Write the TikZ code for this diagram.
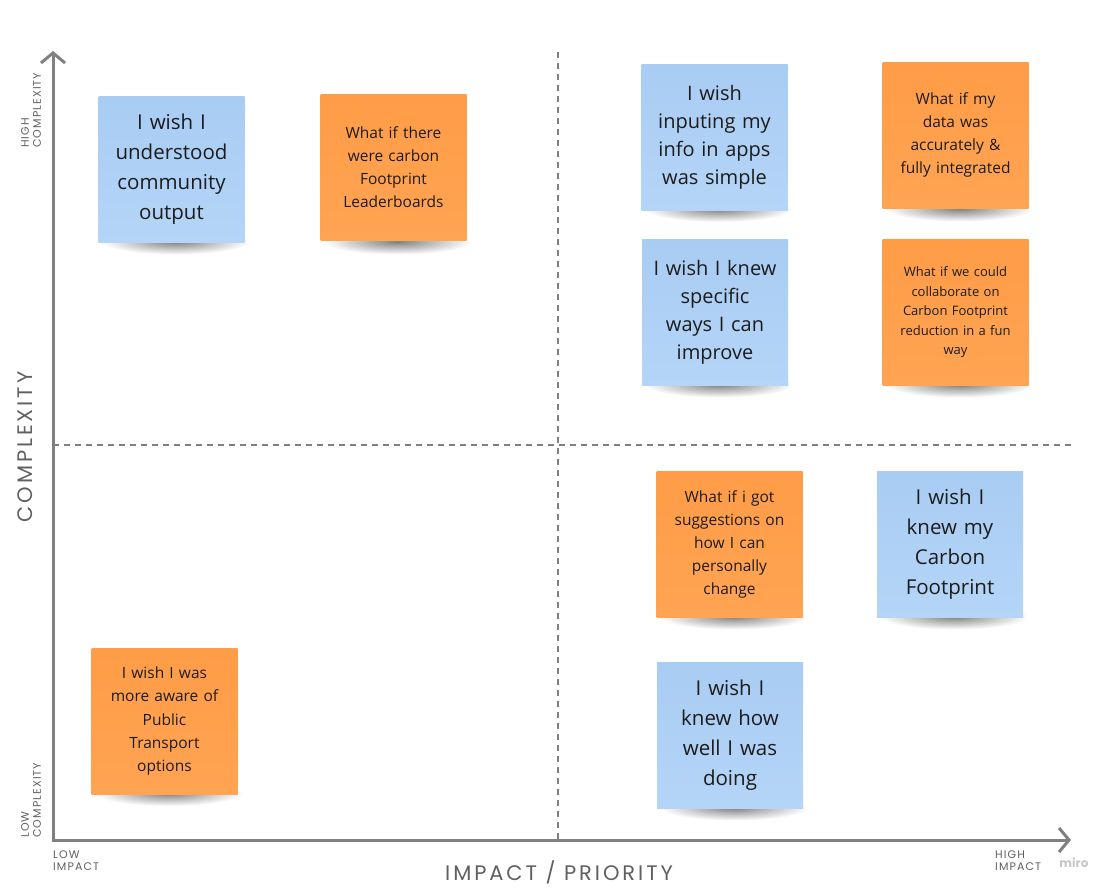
\documentclass[tikz,border=0pt]{standalone}
\usepackage{fontspec}
\setmainfont{Open Sans}
\newfontfamily\axisfont[LetterSpace=14]{Poppins}
\newfontfamily\tinyfont[LetterSpace=10]{Poppins}
\newfontfamily\mirofont{Poppins}
\usetikzlibrary{arrows.meta,calc}
\definecolor{noteblue}{HTML}{A9CCF3}
\definecolor{noteblueb}{HTML}{B4D5F7}
\definecolor{noteorange}{HTML}{FF9C47}
\definecolor{noteoranged}{HTML}{FFA453}
\definecolor{axisgray}{HTML}{808080}
\definecolor{labelgray}{HTML}{606060}
\definecolor{inkdark}{HTML}{1C1C1C}
\begin{document}
\begin{tikzpicture}[x=1pt,y=-1pt,
  note/.style={minimum width=146pt,minimum height=146pt,inner sep=0pt,align=center,text=inkdark,text width=140pt},
  bluenote/.style={note,top color=noteblue,bottom color=noteblueb},
  orangenote/.style={note,top color=noteorange,bottom color=noteoranged},
  big/.style={font=\fontsize{20.5}{30}\selectfont},
  bigtight/.style={font=\fontsize{20}{28}\selectfont},
  mid/.style={font=\fontsize{15.5}{23.2}\selectfont},
  small/.style={font=\fontsize{13}{19.5}\selectfont},
  axisline/.style={draw=axisgray,line width=3pt},
  tip/.style={-{Straight Barb[length=10pt,width=24pt,line width=3pt]}},
  quad/.style={draw=axisgray,line width=1.1pt,dash pattern=on 6pt off 5pt},
  axlab/.style={text=labelgray,font=\axisfont\fontsize{21}{24}\selectfont,inner sep=0pt},
  tinylab/.style={text=labelgray,font=\tinyfont\fontsize{11}{12}\selectfont,align=left,inner sep=0pt}
]
\useasboundingbox (0,0) rectangle (1117,894);
\fill[white] (0,0) rectangle (1117,894);

% shadows
\foreach \cx/\cy in {171.5/169.5, 393.5/169.5, 714.5/137, 955.5/136.5, 715/312.5, 955.5/312.5, 729.5/544.5, 950/544.5, 730/735.5, 164.5/721}{
  \shade[inner color=black!50,outer color=white] (\cx+4,\cy+72) ellipse (74 and 13);
}

% quadrant dividers
\coordinate (vtop) at (558,52);
\coordinate (vbot) at (558,840);
\coordinate (hl) at (53,445);
\coordinate (hr) at (1072,445);
\draw[quad] (vtop) -- (vbot);
\draw[quad] (hl) -- (hr);

% axes
\coordinate (origin) at (53,840);
\coordinate (ytip) at (53,51);
\coordinate (xtip) at (1071,840);
\draw[axisline,tip] (origin) -- (ytip);
\draw[axisline,tip] (origin) -- (xtip);
\draw[axisline,line cap=rect] (53,830) -- (origin) -- (63,840);

% axis labels
\node[axlab,rotate=90] (ylab) at (25,447) {COMPLEXITY};
\node[axlab] (xlab) at (559,872) {IMPACT / PRIORITY};
\node[tinylab,rotate=90,anchor=north west] (hc) at (21,148) {HIGH\\COMPLEXITY};
\node[tinylab,rotate=90,anchor=north west] (lc) at (21,838) {LOW\\COMPLEXITY};
\node[tinylab,anchor=north west] (li) at (53,851) {LOW\\IMPACT};
\node[tinylab,anchor=north west] (hi) at (995,851) {HIGH\\IMPACT};
\node[text=black!22,font=\mirofont\bfseries\fontsize{12}{14}\selectfont,inner sep=0pt] (miro) at (1074,863) {miro};

% notes
\node[bluenote,big] (n1) at (171.5,169.5) {I wish I\\understood\\community\\output};
\node[orangenote,mid] (n2) at (393.5,167) {What if there\\were carbon\\Footprint\\Leaderboards};
\node[bluenote,bigtight] (n3) at (714.5,137) {I wish\\inputing my\\info in apps\\was simple};
\node[orangenote,mid] (n4) at (955.5,135) {What if my\\data was\\accurately \&\\fully integrated};
\node[bluenote,bigtight] (n5) at (715,312.5) {I wish I knew\\specific\\ways I can\\improve};
\node[orangenote,small] (n6) at (955.5,312.5) {What if we could\\collaborate on\\Carbon Footprint\\reduction in a fun\\way};
\node[orangenote,mid] (n7) at (729.5,544.5) {What if i got\\suggestions on\\how I can\\personally\\change};
\node[bluenote,big] (n8) at (950,544.5) {I wish I\\knew my\\Carbon\\Footprint};
\node[bluenote,big] (n9) at (730,735.5) {I wish I\\knew how\\well I was\\doing};
\node[orangenote,mid] (n10) at (164.5,721) {I wish I was\\more aware of\\Public\\Transport\\options};
\end{tikzpicture}
\end{document}
